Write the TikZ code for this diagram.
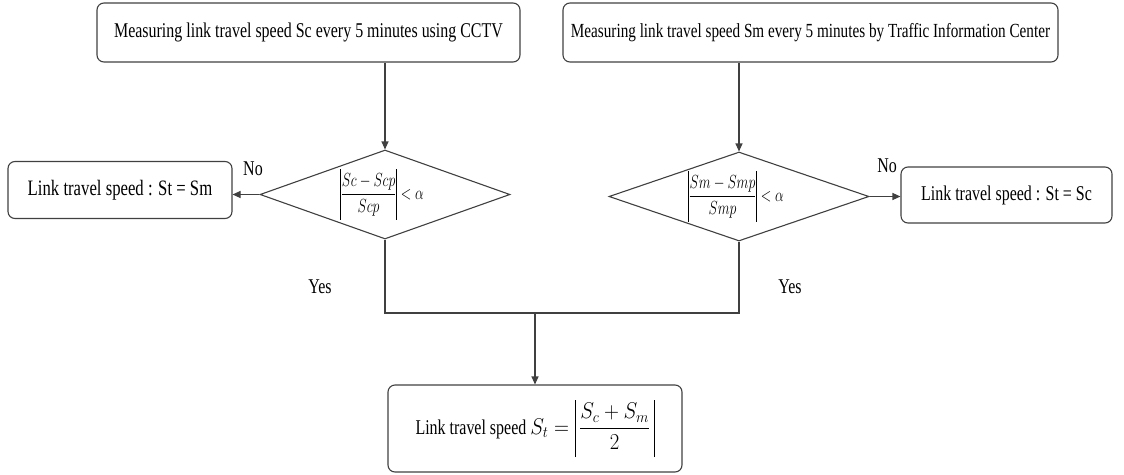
\documentclass[tikz,border=0pt]{standalone}
\usepackage{fontspec}
\usepackage{graphicx}
\setmainfont{Liberation Serif}[FakeStretch=0.76]
\usetikzlibrary{arrows.meta,shapes.geometric}
% straight absolute-value bar of a given height, centred on the math axis
\newcommand\absbar[1]{\mathord{\vcenter{\hbox{\vrule width 0.9pt height #1}}}}
% narrow, tall setting for the formulas
\newcommand\narrowmath[1]{\scalebox{0.8}[1.1]{#1}}
\begin{document}
\begin{tikzpicture}[x=1pt,y=-1pt,
  box/.style={draw=black!75, line width=1.1pt, rounded corners=7pt, inner sep=0pt,
    font=\fontsize{21}{25}\selectfont},
  test/.style={draw=black!75, line width=1.1pt, shape=diamond, inner sep=0pt},
  cond/.style={inner sep=0pt, font=\fontsize{19}{22}\selectfont},
  wire/.style={draw=black!75, line width=1.1pt},
  flow/.style={wire, -{Triangle[length=8pt,width=7pt]}},
  lbl/.style={inner sep=0pt, font=\fontsize{21}{25}\selectfont}]
\useasboundingbox (0,0) rectangle (1124,474);

% measurement sources
\node[box, minimum width=423pt, minimum height=59pt] (ta) at (308.5,32.5)
  {Measuring link travel speed Sc every 5 minutes using CCTV};
\node[box, minimum width=495pt, minimum height=59pt, font=\fontsize{20}{24}\selectfont]
  (tb) at (810.5,32.5)
  {Measuring link travel speed Sm every 5 minutes by Traffic Information Center};

% validity tests
\node[test, minimum width=250pt, minimum height=89pt] (dl) at (385,194.5) {};
\node[cond] (dlt) at ([xshift=-3pt]dl.center)
  {\narrowmath{$\displaystyle\absbar{46pt}\frac{Sc-Scp}{Scp}\absbar{46pt}<\alpha$}};
\node[test, minimum width=260pt, minimum height=89pt] (dr) at (739,196.5) {};
\node[cond] (drt) at ([xshift=-3pt]dr.center)
  {\narrowmath{$\displaystyle\absbar{46pt}\frac{Sm-Smp}{Smp}\absbar{46pt}<\alpha$}};

% fallback results
\node[box, minimum width=224pt, minimum height=57pt, font=\fontsize{22}{26}\selectfont]
  (la) at (120,190) {Link travel speed : St = Sm};
\node[box, minimum width=211pt, minimum height=56pt] (ra) at (1006.5,195)
  {Link travel speed : St = Sc};

% combined result
\node[box, minimum width=294pt, minimum height=87pt] (bx) at (535,428.5)
  {Link travel speed \scalebox{1}[1.1]{$\displaystyle S_t=\absbar{52pt}\,\frac{S_c+S_m}{2}\,\absbar{52pt}$}};

% connectors
\draw[flow] (ta.south -| dl.north) -- (dl.north);
\draw[flow] (tb.south -| dr.north) -- (dr.north);
\draw[flow] (dl.west) -- (la.east |- dl.west);
\draw[flow] (dr.east) -- (ra.west |- dr.east);
\coordinate (m) at (bx.north |- 0,313);
\draw[wire] (dl.south) |- (m) -| (dr.south);
\draw[flow] (m) -- (bx.north);

% branch labels
\node[lbl] (nol) at (253,169) {No};
\node[lbl] (nor) at (887,166) {No};
\node[lbl] (yesl) at (320,287) {Yes};
\node[lbl] (yesr) at (790,287) {Yes};
\end{tikzpicture}
\end{document}
